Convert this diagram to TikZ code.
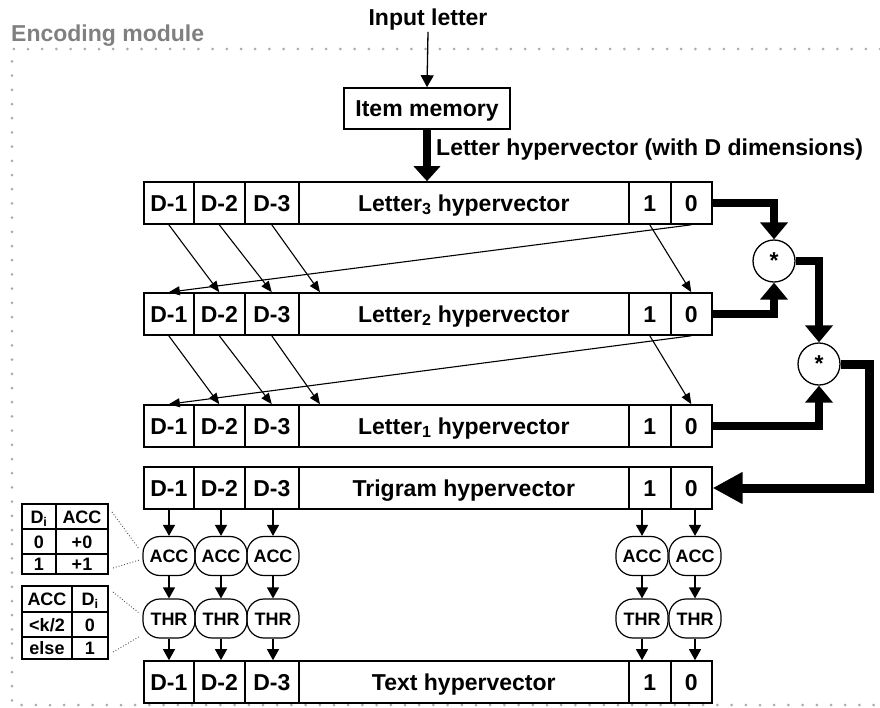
\documentclass[tikz,border=0pt]{standalone}
\usepackage{fontspec}
\setmainfont{Liberation Sans}
\usetikzlibrary{arrows.meta,calc}

% one hypervector row: name prefix, vertical centre, label of the wide cell
\newcommand\hvrow[3]{%
  \node[cell, minimum width=50pt]  (#1d1) at (143,#2) {D-1};
  \node[cell, minimum width=51pt]  (#1d2) at (193,#2) {D-2};
  \node[cell, minimum width=54pt]  (#1d3) at (244,#2) {D-3};
  \node[cell, minimum width=330pt] (#1m)  at (298,#2) {#3};
  \node[cell, minimum width=42pt]  (#1o)  at (628,#2) {1};
  \node[cell, minimum width=41pt]  (#1z)  at (670,#2) {0};
}

\begin{document}
\begin{tikzpicture}[x=1pt,y=-1pt,
  font=\fontsize{23}{27}\selectfont\bfseries,
  cell/.style={draw, line width=1.6pt, minimum height=42pt, inner sep=0pt, anchor=west,
               text height=16.5pt, text depth=0pt},
  unit/.style={draw, line width=1.2pt, rounded corners=17pt, minimum width=52pt,
               minimum height=39pt, inner sep=0pt, text height=13pt, text depth=0pt,
               font=\fontsize{18}{21}\selectfont\bfseries},
  tcell/.style={draw, line width=1.6pt, inner sep=0pt, outer sep=0pt, anchor=north west,
               text height=13pt, text depth=0pt, font=\fontsize{18}{21}\selectfont\bfseries},
  mult/.style={circle, draw, line width=1.3pt, minimum size=42pt, inner sep=0pt},
  thinarrow/.style={line width=1.3pt, -{Triangle[width=10pt,length=11pt]}},
  diag/.style={line width=1.1pt, -{Triangle[width=9pt,length=11pt]}},
  fat/.style={line width=8pt, -{Triangle[width=27pt,length=17pt]}},
  bigfat/.style={line width=9pt, -{Triangle[width=30pt,length=30pt]}},
  leader/.style={line width=0.9pt, dotted, black!70},
  frame/.style={line width=3pt, gray!65, dash pattern=on 0pt off 14.2pt, line cap=round}
]
\useasboundingbox (0,0) rectangle (880,707);

% enclosing module frame
\draw[frame] (880,49) -- (12,49) -- (12,705) -- (880,705);
\node[anchor=west, text=black!50, inner sep=0pt] (title) at (11,36) {Encoding module};

% input and item memory
\node[inner sep=1pt] (inp) at (428,20) {Input letter};
\node[draw, line width=1.6pt, minimum width=166pt, minimum height=41pt, inner sep=0pt,
      text height=16.5pt, text depth=0pt] (im) at (427,108.5) {Item memory};
\draw[thinarrow, -{Triangle[width=13pt,length=12pt]}] (inp.south) -- (im.north);

% hypervector rows
\hvrow{ra}{203}{Letter\textsubscript{3} hypervector}
\hvrow{rb}{314}{Letter\textsubscript{2} hypervector}
\hvrow{rc}{426}{Letter\textsubscript{1} hypervector}
\hvrow{tg}{488}{Trigram hypervector}
\hvrow{tx}{682}{Text hypervector}

\draw[line width=8.5pt, -{Triangle[width=26pt,length=15pt]}] (im.south) -- (im.south |- ram.north);
\node[anchor=west, inner sep=0pt] (lhv) at (436,150) {Letter hypervector (with D dimensions)};

% rotation by one position between consecutive letters
\foreach \s/\t in {ra/rb, rb/rc}{
  \draw[diag] (\s d1.south) -- (\t d2.north);
  \draw[diag] (\s d2.south) -- (\t d3.north);
  \draw[diag] (\s d3.south) -- ([xshift=22pt]\t m.north west);
  \draw[diag] (\s o.south) -- (\t z.north);
  \draw[diag] (\s z.south) -- (\t d1.north);
}

% binding operators
\node[mult] (m1) at (774,261) {\raisebox{-5pt}{*}};
\node[mult] (m2) at (819,364) {\raisebox{-5pt}{*}};
\coordinate (turn) at (869,0);

\draw[fat] (raz.east) -| (m1.north);
\draw[fat] (rbz.east) -| (m1.south);
\draw[fat] (m1.east) -| (m2.north);
\draw[fat] (rcz.east) -| (m2.south);
\draw[bigfat] (m2.east) -- (turn |- m2.east) -- (turn |- tgz.east) -- (tgz.east);

% accumulators and thresholds
\foreach \i/\x in {1/169, 2/221, 3/273, 4/642, 5/695}{
  \node[unit] (acc\i) at (\x,556) {ACC};
  \node[unit] (thr\i) at (\x,618.5) {THR};
}
\foreach \i/\c in {1/d1, 2/d2, 3/d3, 4/o, 5/z}{
  \draw[thinarrow, -{Triangle[width=12pt,length=11pt]}] (acc\i |- tg\c.south) -- (acc\i.north);
  \draw[thinarrow, -{Triangle[width=12pt,length=11pt]}] (acc\i.south) -- (thr\i.north);
  \draw[thinarrow, -{Triangle[width=12pt,length=11pt]}] (thr\i.south) -- (thr\i |- tx\c.north);
}

% accumulator rule table
\node[tcell, minimum width=34pt, minimum height=25pt] (pa1) at (22,504) {D\textsubscript{i}};
\node[tcell, minimum width=52pt, minimum height=25pt] (pa2) at (56,504) {ACC};
\node[tcell, minimum width=34pt, minimum height=25pt] (pb1) at (22,529) {0};
\node[tcell, minimum width=52pt, minimum height=25pt] (pb2) at (56,529) {+0};
\node[tcell, minimum width=34pt, minimum height=20pt] (pc1) at (22,554) {1};
\node[tcell, minimum width=52pt, minimum height=20pt] (pc2) at (56,554) {+1};

% threshold rule table
\node[tcell, minimum width=50pt, minimum height=26pt] (qa1) at (22,586) {ACC};
\node[tcell, minimum width=36pt, minimum height=26pt] (qa2) at (72,586) {D\textsubscript{i}};
\node[tcell, minimum width=50pt, minimum height=25pt] (qb1) at (22,612) {<k/2};
\node[tcell, minimum width=36pt, minimum height=25pt] (qb2) at (72,612) {0};
\node[tcell, minimum width=50pt, minimum height=22pt] (qc1) at (22,637) {else};
\node[tcell, minimum width=36pt, minimum height=22pt] (qc2) at (72,637) {1};

% leaders from the tables to the first unit
\draw[leader] ($(pa2.north east)+(4,8)$) -- ($(acc1.west)+(-4,-8)$);
\draw[leader] ($(pc2.south east)+(5,-6)$) -- ($(acc1.west)+(-3,4)$);
\draw[leader] ($(qa2.north east)+(5,6)$) -- ($(thr1.west)+(-4,-6)$);
\draw[leader] ($(qc2.south east)+(5,-7)$) -- ($(thr1.west)+(-3,18)$);
\end{tikzpicture}
\end{document}
